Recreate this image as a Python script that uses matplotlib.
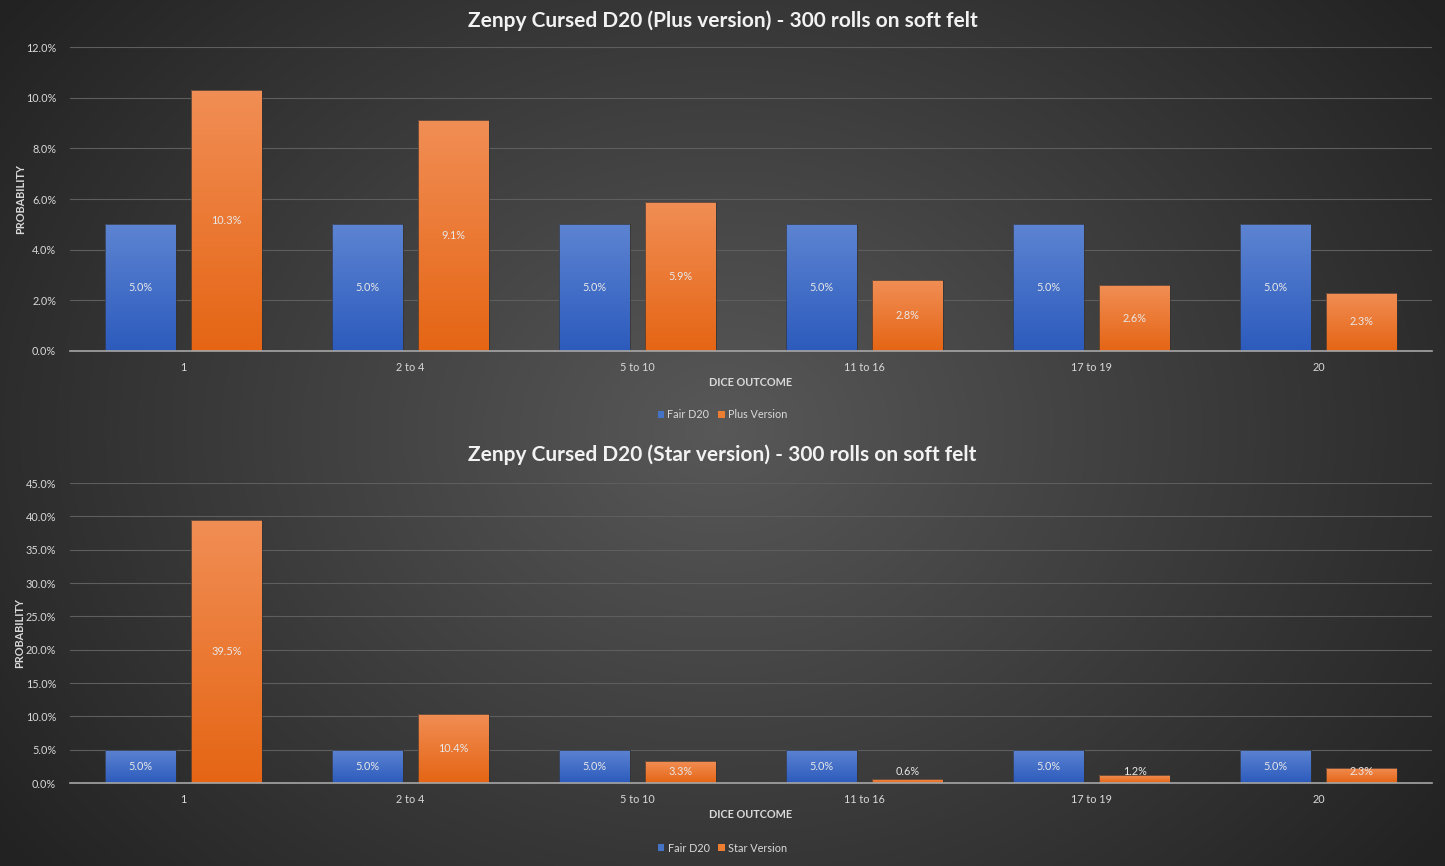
import numpy as np
import matplotlib
matplotlib.use("Agg")
import matplotlib.pyplot as plt
from matplotlib.colors import LinearSegmentedColormap
from matplotlib.ticker import FuncFormatter, MultipleLocator
from matplotlib.patches import Patch

categories = ["1", "2 to 4", "5 to 10", "11 to 16", "17 to 19", "20"]
fair = [5.0, 5.0, 5.0, 5.0, 5.0, 5.0]
plus = [10.3, 9.1, 5.9, 2.8, 2.6, 2.3]
star = [39.5, 10.4, 3.3, 0.6, 1.2, 2.3]

titles = ["Zenpy Cursed D20 (Plus version) - 300 rolls on soft felt",
          "Zenpy Cursed D20 (Star version) - 300 rolls on soft felt"]
series_names = [("Fair D20", "Plus Version"), ("Fair D20", "Star Version")]
ymax = [12.0, 45.0]
ystep = [2.0, 5.0]

plt.rcParams['font.family'] = ['Lato', 'DejaVu Sans']

fig = plt.figure(figsize=(14.45, 8.66), dpi=100)

# radial background
bg = fig.add_axes([0, 0, 1, 1], zorder=-10)
yy, xx = np.mgrid[0:866, 0:1445]
r = np.sqrt(((xx - 720) / 900.0) ** 2 + ((yy - 430) / 700.0) ** 2)
val = np.clip(1 - r, 0, 1)
bgcmap = LinearSegmentedColormap.from_list("bg", ["#222222", "#585858"])
bg.imshow(val, cmap=bgcmap, aspect='auto', extent=[0, 1, 0, 1], origin='upper', vmin=0, vmax=1)
bg.set_axis_off()

blue_cmap = LinearSegmentedColormap.from_list("b", ["#2c5bbd", "#5d84d2"])
orange_cmap = LinearSegmentedColormap.from_list("o", ["#e56514", "#f18e55"])

left = 70 / 1445
width = (1432 - 70) / 1445
positions = [[left, 0.5947, width, 0.3510], [left, 0.0958, width, 0.3464]]
title_y = [1 - 21 / 866, 1 - 455 / 866]
legend_y = [1 - 415 / 866, 1 - 848 / 866]
text_col = "#d9d9d9"
x = np.arange(len(categories))
w = 0.31
off = 0.19

for k, (vals, pos) in enumerate(zip([plus, star], positions)):
    ax = fig.add_axes(pos)
    ax.patch.set_alpha(0)
    ax.set_xlim(-0.5, len(categories) - 0.5)
    ax.set_ylim(0, ymax[k])
    grad = np.linspace(0, 1, 256).reshape(-1, 1)
    minlab = ymax[k] * 0.04
    for s, (series, cmap) in enumerate([(fair, blue_cmap), (vals, orange_cmap)]):
        xs = x + (-off if s == 0 else off)
        bars = ax.bar(xs, series, width=w, color='none', edgecolor='#333333', linewidth=0.5, zorder=3)
        for b, v in zip(bars, series):
            x0 = b.get_x()
            im = ax.imshow(grad, cmap=cmap, aspect='auto', origin='lower',
                           extent=[x0, x0 + w, 0, v], zorder=2)
            im.set_clip_path(b)
            ly = max(v / 2.0, minlab)
            ax.text(b.get_x() + w / 2, ly, f"{v:.1f}%", ha='center', va='center',
                    color='#e8e8e8', fontsize=7.8, zorder=4)
    ax.yaxis.set_major_locator(MultipleLocator(ystep[k]))
    ax.yaxis.set_major_formatter(FuncFormatter(lambda v, p: f"{v:.1f}%"))
    ax.set_xticks(x)
    ax.set_xticklabels(categories)
    ax.tick_params(axis='both', length=0, colors=text_col, labelsize=7.8)
    ax.tick_params(axis='x', pad=8)
    ax.tick_params(axis='y', pad=10)
    ax.grid(axis='y', color='#5e5e5e', linewidth=0.8, zorder=0)
    ax.set_axisbelow(True)
    for sp in ['top', 'right', 'left']:
        ax.spines[sp].set_visible(False)
    ax.spines['bottom'].set_color('#a6a6a6')
    ax.spines['bottom'].set_linewidth(1.2)
    ax.spines['bottom'].set_zorder(5)
    ax.set_xlabel("DICE OUTCOME", color=text_col, fontsize=7.8, fontweight='bold', labelpad=3)
    ax.set_ylabel("PROBABILITY", color=text_col, fontsize=7.8, fontweight='bold', labelpad=0)
    fig.text(0.5, title_y[k], titles[k], color='#f2f2f2', fontsize=15, fontweight='bold',
             ha='center', va='center')
    handles = [Patch(facecolor='#4472c4'), Patch(facecolor='#ed7d31')]
    leg = fig.legend(handles, series_names[k], loc='center', bbox_to_anchor=(0.5, legend_y[k]),
                     ncol=2, frameon=False, fontsize=7.8, handlelength=0.6, handleheight=0.6,
                     handletextpad=0.3, columnspacing=0.8)
    for t in leg.get_texts():
        t.set_color(text_col)

fig.savefig("out.png", dpi=100)
